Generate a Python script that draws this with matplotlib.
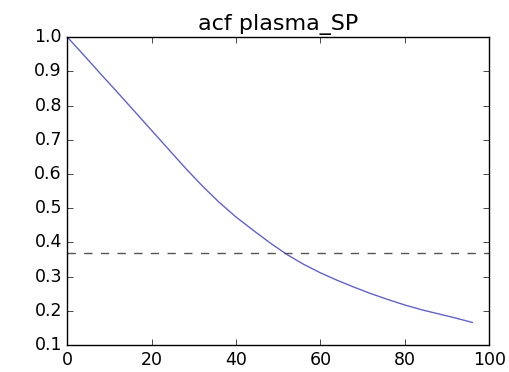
import matplotlib
matplotlib.use("Agg")
import matplotlib.pyplot as plt
import numpy as np

# autocorrelation (every 4 lags)
lags = [0, 4, 8, 12, 16, 20, 24, 28, 32, 36, 40, 44, 48,
        52, 56, 60, 64, 68, 72, 76, 80, 84, 88, 92, 96]
acf = [1.000, 0.946, 0.891, 0.837, 0.782, 0.727, 0.672, 0.617, 0.565,
       0.517, 0.474, 0.436, 0.399, 0.365, 0.336, 0.311, 0.289, 0.269,
       0.250, 0.233, 0.217, 0.203, 0.191, 0.179, 0.166]
threshold = 0.37
title = "acf plasma_SP"

plt.style.use("classic")
fig = plt.figure(figsize=(5.09, 3.72), dpi=100, facecolor="white")
ax = fig.add_axes([0.1326, 0.0726, 0.8284, 0.8271])
ax.plot(lags, acf, color="#6262cc", linewidth=1.0)
ax.axhline(threshold, color="#555555", linestyle="--", linewidth=1.0)
ax.set_xlim(0, 100)
ax.set_ylim(0.1, 1.0)
ax.set_xticks(np.arange(0, 101, 20))
ax.set_yticks(np.arange(0.1, 1.01, 0.1))
ax.set_title(title, fontsize=16)
ax.tick_params(labelsize=12.5)
fig.savefig("out.png", dpi=100, facecolor="white")
